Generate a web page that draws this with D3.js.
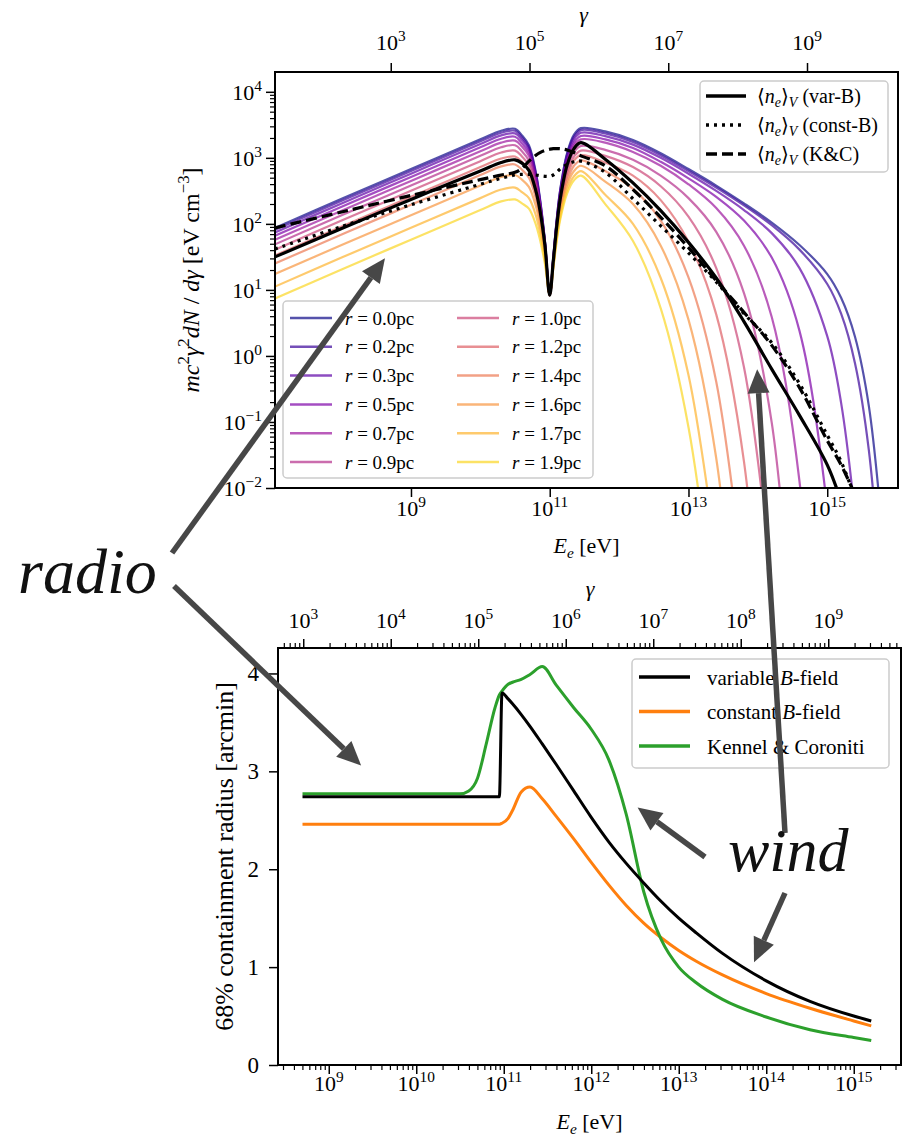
<!DOCTYPE html>
<html><head><meta charset="utf-8">
<script src="https://cdn.jsdelivr.net/npm/d3@7/dist/d3.min.js"></script>
<style>html,body{margin:0;padding:0;background:#fff}svg{display:block}</style>
</head><body>
<svg id="chart" width="904" height="1136" xmlns="http://www.w3.org/2000/svg"></svg>
<script>
// ================= DATA =================
const ME_EV = 5.11e5; // electron rest energy [eV], gamma = E / ME_EV

// ---- top panel: log10(E_e / eV) sample grid
const topLogE = [7.04, 8.0, 9.0, 10.0, 10.3, 10.5, 10.6, 10.7, 10.8, 10.86, 10.93, 11.0, 11.05, 11.1, 11.15, 11.25, 11.35, 11.45,
                 11.8, 12.2, 12.6, 13.0, 13.4, 13.8, 14.2, 14.6, 15.0, 15.2, 15.4, 15.6, 15.8];
// log10 of mc^2 gamma^2 dN/dgamma [eV cm^-3] for each radius (null = not plotted)
const spec_r00 = [1.94,2.38,2.83,3.28,3.41,3.44,3.34,3.19,2.78,2.38,1.75,0.92,1.48,2.06,2.51,3.07,3.35,3.45, 3.40,3.27,3.07,2.83,2.58,2.31,2.02,1.68,1.24,0.88,0.29,-0.76,-2.75];
const spec_r02 = [1.91,2.35,2.80,3.25,3.38,3.41,3.31,3.16,2.76,2.36,1.74,0.92,1.47,2.05,2.50,3.05,3.32,3.42, 3.37,3.24,3.04,2.80,2.55,2.28,1.98,1.61,1.09,0.64,-0.11,-1.43,-3.9];
const spec_r03 = [1.87,2.31,2.76,3.21,3.34,3.37,3.27,3.13,2.73,2.34,1.73,0.92,1.46,2.03,2.47,3.01,3.28,3.38, 3.33,3.20,3.00,2.76,2.50,2.21,1.86,1.33,0.30,-0.71,-2.42,-5,null];
const spec_r05 = [1.82,2.26,2.71,3.16,3.29,3.32,3.22,3.08,2.70,2.31,1.71,0.92,1.45,2.00,2.44,2.97,3.23,3.33, 3.28,3.15,2.94,2.69,2.41,2.05,1.49,0.38,-2.30,-5,null,null,null];
const spec_r07 = [1.76,2.20,2.65,3.10,3.23,3.26,3.17,3.03,2.65,2.28,1.69,0.92,1.44,1.98,2.41,2.93,3.19,3.28, 3.23,3.09,2.88,2.60,2.24,1.67,0.59,-1.90,-8,null,null,null,null];
const spec_r09 = [1.69,2.13,2.58,3.03,3.16,3.19,3.10,2.96,2.60,2.24,1.67,0.92,1.42,1.94,2.34,2.84,3.09,3.18, 3.12,2.97,2.73,2.39,1.88,0.95,-1.01,-5.6,null,null,null,null,null];
const spec_r10 = [1.61,2.05,2.50,2.95,3.08,3.11,3.02,2.89,2.54,2.19,1.64,0.92,1.40,1.91,2.30,2.78,3.02,3.11, 3.03,2.86,2.57,2.11,1.33,-0.17,-3.45,null,null,null,null,null,null];
const spec_r12 = [1.52,1.96,2.41,2.86,2.99,3.02,2.94,2.81,2.47,2.14,1.61,0.92,1.39,1.87,2.26,2.72,2.96,3.04, 2.93,2.73,2.36,1.73,0.63,-1.60,-6.3,null,null,null,null,null,null];
const spec_r14 = [1.40,1.84,2.29,2.74,2.87,2.90,2.82,2.70,2.39,2.07,1.57,0.92,1.37,1.84,2.21,2.65,2.88,2.96, 2.80,2.53,2.05,1.19,-0.39,-3.5,null,null,null,null,null,null,null];
const spec_r16 = [1.24,1.68,2.13,2.58,2.71,2.74,2.67,2.56,2.27,1.98,1.52,0.92,1.35,1.80,2.15,2.59,2.80,2.88, 2.64,2.30,1.67,0.55,-1.55,-5.6,null,null,null,null,null,null,null];
const spec_r17 = [1.05,1.49,1.94,2.39,2.52,2.55,2.48,2.39,2.13,1.87,1.46,0.92,1.33,1.77,2.10,2.52,2.72,2.80, 2.44,2.00,1.18,-0.29,-3.0,null,null,null,null,null,null,null,null];
const spec_r19 = [0.87,1.31,1.76,2.21,2.34,2.37,2.31,2.23,1.99,1.76,1.40,0.92,1.32,1.73,2.06,2.46,2.66,2.73, 2.30,1.74,0.72,-1.08,-4.2,null,null,null,null,null,null,null,null];
const radiusLabels = ["0.0","0.2","0.3","0.5","0.7","0.9","1.0","1.2","1.4","1.6","1.7","1.9"];
// volume averaged spectra
const spec_varB   = [1.50,1.93,2.37,2.80,2.93,2.97,2.92,2.81,2.50,2.20,1.68,0.92,1.42,1.95,2.37,2.89,3.14,3.23, 2.98,2.62,2.20,1.72,1.18,0.52,-0.20,-0.90,-1.65,-2.20,null,null,null];
const spec_constB = [1.62,1.96,2.29,2.60,2.69,2.74,2.75,2.75,2.74,2.73,2.72,2.72,2.74,2.78,2.83,2.90,2.94,2.95, 2.78,2.38,1.97,1.56,1.12,0.64,0.20,-0.42,-1.20,-1.60,-2.15,null,null];
const spec_KC     = [1.94,2.18,2.43,2.67,2.74,2.78,2.84,2.95,3.04,3.08,3.11,3.13,3.14,3.14,3.14,3.12,3.08,3.03, 2.88,2.52,2.10,1.64,1.14,0.66,0.16,-0.48,-1.28,-1.65,-2.10,null,null];
const avgLegendLabels = ["(var-B)", "(const-B)", "(K&C)"];
const topXTickExp = [9, 11, 13, 15];
const topGammaTickExp = [3, 5, 7, 9];
const topYTickExp = [-2, -1, 0, 1, 2, 3, 4];

// ---- bottom panel
const botLogE = [8.7, 9.5, 10.0, 10.4, 10.5, 10.6, 10.7, 10.8, 10.9, 10.95, 10.98, 11.05, 11.1, 11.2, 11.3, 11.44, 11.6, 11.8,
                 12.0, 12.2, 12.4, 12.6, 12.8, 13.0, 13.2, 13.5, 14.0, 14.5, 15.0, 15.2];
const rad_varB   = [2.74,2.74,2.74,2.74,2.74,2.74,2.74,2.74,2.74,2.74,3.80,3.74,3.69,3.58,3.46,3.28,3.07,2.80,2.53,2.28,2.06,1.86,1.67,1.50,1.35,1.14,0.86,0.65,0.50,0.45];
const rad_constB = [2.46,2.46,2.46,2.46,2.46,2.46,2.46,2.46,2.46,2.46,2.47,2.52,2.60,2.79,2.84,2.72,2.54,2.31,2.07,1.84,1.63,1.45,1.30,1.17,1.06,0.92,0.73,0.58,0.45,0.40];
const rad_KC     = [2.77,2.77,2.77,2.77,2.77,2.80,2.93,3.28,3.65,3.78,3.82,3.89,3.91,3.94,3.99,4.07,3.88,3.65,3.43,3.12,2.56,1.77,1.28,1.00,0.84,0.67,0.49,0.36,0.28,0.25];
const botXTickExp = [9, 10, 11, 12, 13, 14, 15];
const botGammaTickExp = [3, 4, 5, 6, 7, 8, 9];
const botYTicks = [0, 1, 2, 3, 4];

// ================= RENDER =================
const FF = '"Liberation Serif","Times New Roman","DejaVu Serif",serif';
const svg = d3.select("#chart").attr("font-family", FF);
svg.append("rect").attr("width", 904).attr("height", 1136).attr("fill", "#fff");
const defs = svg.append("defs");

function rich(sel, parts, fs) {
  let off = 0;
  parts.forEach(p => {
    let target = 0, size = fs;
    if (p.sup) { target = -0.40 * fs; size = 0.7 * fs; }
    if (p.sub) { target = 0.22 * fs; size = 0.7 * fs; }
    const ts = sel.append("tspan").text(p.t).attr("font-size", size).attr("dy", target - off);
    if (p.i) ts.attr("font-style", "italic");
    off = target;
  });
  return sel;
}
const expStr = e => (e < 0 ? "\u2212" + (-e) : String(e));
const pow10Parts = e => [{t: "10"}, {t: expStr(e), sup: true}];

function minorTicks(dom) {
  const lo = Math.log10(dom[0]), hi = Math.log10(dom[1]), out = [];
  for (let n = Math.floor(lo); n <= Math.ceil(hi); n++)
    for (let k = 2; k <= 9; k++) { const v = k * 10 ** n; if (v >= dom[0] && v <= dom[1]) out.push(v); }
  return out;
}
function styleAxis(g, w) {
  g.select(".domain").remove();
  g.selectAll(".tick line").attr("stroke", "#000").attr("stroke-width", w || 1.5);
  g.selectAll(".tick text").remove();
}

// ---------- TOP PANEL ----------
const T = {l: 275, r: 898, t: 72, b: 488};
const xT = d3.scaleLog().domain([10 ** 7.04, 10 ** 16.02]).range([T.l, T.r]);
const yT = d3.scaleLog().domain([1e-2, 10 ** 4.3]).range([T.b, T.t]);
const gT = d3.scaleLog().domain(xT.domain().map(e => e / ME_EV)).range([T.l, T.r]);

defs.append("clipPath").attr("id", "clipT").append("rect")
  .attr("x", T.l).attr("y", T.t).attr("width", T.r - T.l).attr("height", T.b - T.t);

const lineT = d3.line().defined(d => d[1] !== null)
  .x(d => xT(10 ** d[0])).y(d => yT(10 ** d[1])).curve(d3.curveCatmullRom.alpha(0.5));
const ptsT = arr => topLogE.map((e, i) => [e, arr[i]]);

const spectra = [spec_r00, spec_r02, spec_r03, spec_r05, spec_r07, spec_r09, spec_r10, spec_r12, spec_r14, spec_r16, spec_r17, spec_r19];
const rColor = i => d3.interpolatePlasma(i / 12);
const RC_OP = 0.7;

const gLT = svg.append("g").attr("clip-path", "url(#clipT)");
spectra.forEach((s, i) => {
  gLT.append("path").attr("d", lineT(ptsT(s))).attr("fill", "none")
    .attr("stroke", rColor(i)).attr("stroke-opacity", RC_OP).attr("stroke-width", 2.2);
});
const avgStyles = [
  {data: spec_varB, dash: null},
  {data: spec_constB, dash: "3,5"},
  {data: spec_KC, dash: "11,5"}
];
avgStyles.forEach(s => {
  gLT.append("path").attr("d", lineT(ptsT(s.data))).attr("fill", "none")
    .attr("stroke", "#000").attr("stroke-width", 3.2).attr("stroke-dasharray", s.dash);
});

// axes top panel
const axYT = svg.append("g").attr("transform", `translate(${T.l},0)`)
  .call(d3.axisLeft(yT).tickValues(topYTickExp.map(e => 10 ** e)).tickSize(9).tickFormat(""));
styleAxis(axYT);
const axYTm = svg.append("g").attr("transform", `translate(${T.l},0)`)
  .call(d3.axisLeft(yT).tickValues(minorTicks(yT.domain())).tickSize(5).tickFormat(""));
styleAxis(axYTm, 1.2);
topYTickExp.forEach(e => {
  rich(svg.append("text").attr("x", T.l - 13).attr("y", yT(10 ** e) + 8).attr("text-anchor", "end"), pow10Parts(e), 22);
});
const axXT = svg.append("g").attr("transform", `translate(0,${T.b})`)
  .call(d3.axisBottom(xT).tickValues(topXTickExp.map(e => 10 ** e)).tickSize(9).tickFormat(""));
styleAxis(axXT);
topXTickExp.forEach(e => {
  rich(svg.append("text").attr("x", xT(10 ** e)).attr("y", 516).attr("text-anchor", "middle"), pow10Parts(e), 22);
});
const axGT = svg.append("g").attr("transform", `translate(0,${T.t})`)
  .call(d3.axisTop(gT).tickValues(topGammaTickExp.map(e => 10 ** e)).tickSize(9).tickFormat(""));
styleAxis(axGT);
topGammaTickExp.forEach(e => {
  rich(svg.append("text").attr("x", gT(10 ** e)).attr("y", 50).attr("text-anchor", "middle"), pow10Parts(e), 22);
});
svg.append("rect").attr("x", T.l).attr("y", T.t).attr("width", T.r - T.l).attr("height", T.b - T.t)
  .attr("fill", "none").attr("stroke", "#000").attr("stroke-width", 2);

// axis labels top
svg.append("text").attr("x", (T.l + T.r) / 2 - 3).attr("y", 22).attr("text-anchor", "middle")
  .attr("font-style", "italic").attr("font-size", 22).text("\u03b3");
rich(svg.append("text").attr("x", (T.l + T.r) / 2).attr("y", 553).attr("text-anchor", "middle"),
  [{t: "E", i: true}, {t: "e", i: true, sub: true}, {t: " [eV]"}], 22);
rich(svg.append("text").attr("transform", `translate(199,${(T.t + T.b) / 2}) rotate(-90)`).attr("text-anchor", "middle"),
  [{t: "mc", i: true}, {t: "2", sup: true}, {t: "\u03b3", i: true}, {t: "2", sup: true}, {t: "dN", i: true},
   {t: " / "}, {t: "d\u03b3", i: true}, {t: " [eV cm"}, {t: "\u22123", sup: true}, {t: "]"}], 24);

// legend 1 (averages)
const L1 = svg.append("g");
L1.append("rect").attr("x", 700).attr("y", 81).attr("width", 188).attr("height", 91).attr("rx", 4)
  .attr("fill", "#fff").attr("fill-opacity", 0.8).attr("stroke", "#cccccc").attr("stroke-width", 1.5);
avgStyles.forEach((s, i) => {
  const y = 96 + i * 29;
  L1.append("line").attr("x1", 706).attr("x2", 746).attr("y1", y).attr("y2", y)
    .attr("stroke", "#000").attr("stroke-width", 3.5).attr("stroke-dasharray", s.dash);
  rich(L1.append("text").attr("x", 757).attr("y", y + 6.5),
    [{t: "\u27e8"}, {t: "n", i: true}, {t: "e", i: true, sub: true}, {t: "\u27e9"}, {t: "V", i: true, sub: true}, {t: " " + avgLegendLabels[i]}], 20);
});

// legend 2 (radii)
const L2 = svg.append("g");
L2.append("rect").attr("x", 283).attr("y", 301).attr("width", 310).attr("height", 177).attr("rx", 4)
  .attr("fill", "#fff").attr("fill-opacity", 0.8).attr("stroke", "#cccccc").attr("stroke-width", 1.5);
radiusLabels.forEach((lab, i) => {
  const col = Math.floor(i / 6), row = i % 6;
  const y = 318 + row * 28.8;
  const hx = col ? 457 : 290, tx = col ? 512 : 345;
  L2.append("line").attr("x1", hx).attr("x2", hx + 42).attr("y1", y).attr("y2", y)
    .attr("stroke", rColor(i)).attr("stroke-opacity", RC_OP).attr("stroke-width", 2.5);
  rich(L2.append("text").attr("x", tx).attr("y", y + 6.5), [{t: "r", i: true}, {t: " = " + lab + "pc"}], 19);
});

// ---------- BOTTOM PANEL ----------
const B = {l: 278, r: 901, t: 648, b: 1065};
const xB = d3.scaleLog().domain([10 ** 8.42, 10 ** 15.54]).range([B.l, B.r]);
const yB = d3.scaleLinear().domain([0, 4.26]).range([B.b, B.t]);
const gB = d3.scaleLog().domain(xB.domain().map(e => e / ME_EV)).range([B.l, B.r]);

defs.append("clipPath").attr("id", "clipB").append("rect")
  .attr("x", B.l).attr("y", B.t).attr("width", B.r - B.l).attr("height", B.b - B.t);
const lineB = d3.line().x(d => xB(10 ** d[0])).y(d => yB(d[1])).curve(d3.curveMonotoneX);
const ptsB = arr => botLogE.map((e, i) => [e, arr[i]]);
const botSeries = [
  {data: rad_varB, color: "#000000", label: [{t: "variable "}, {t: "B", i: true}, {t: "-field"}]},
  {data: rad_constB, color: "#ff7f0e", label: [{t: "constant "}, {t: "B", i: true}, {t: "-field"}]},
  {data: rad_KC, color: "#2ca02c", label: [{t: "Kennel & Coroniti"}]}
];
const gLB = svg.append("g").attr("clip-path", "url(#clipB)");
[1, 2, 0].forEach(k => {
  gLB.append("path").attr("d", lineB(ptsB(botSeries[k].data))).attr("fill", "none")
    .attr("stroke", botSeries[k].color).attr("stroke-width", 3);
});

const axYB = svg.append("g").attr("transform", `translate(${B.l},0)`)
  .call(d3.axisLeft(yB).tickValues(botYTicks).tickSize(9).tickFormat(""));
styleAxis(axYB);
botYTicks.forEach(v => {
  svg.append("text").attr("x", B.l - 19).attr("y", yB(v) + 8).attr("text-anchor", "end")
    .attr("font-size", 23).text(v);
});
const axXB = svg.append("g").attr("transform", `translate(0,${B.b})`)
  .call(d3.axisBottom(xB).tickValues(botXTickExp.map(e => 10 ** e)).tickSize(9).tickFormat(""));
styleAxis(axXB);
const axXBm = svg.append("g").attr("transform", `translate(0,${B.b})`)
  .call(d3.axisBottom(xB).tickValues(minorTicks(xB.domain())).tickSize(5).tickFormat(""));
styleAxis(axXBm, 1.2);
botXTickExp.forEach(e => {
  rich(svg.append("text").attr("x", xB(10 ** e)).attr("y", 1091).attr("text-anchor", "middle"), pow10Parts(e), 22);
});
const axGB = svg.append("g").attr("transform", `translate(0,${B.t})`)
  .call(d3.axisTop(gB).tickValues(botGammaTickExp.map(e => 10 ** e)).tickSize(9).tickFormat(""));
styleAxis(axGB);
const axGBm = svg.append("g").attr("transform", `translate(0,${B.t})`)
  .call(d3.axisTop(gB).tickValues(minorTicks(gB.domain())).tickSize(5).tickFormat(""));
styleAxis(axGBm, 1.2);
botGammaTickExp.forEach(e => {
  rich(svg.append("text").attr("x", gB(10 ** e)).attr("y", 628).attr("text-anchor", "middle"), pow10Parts(e), 22);
});
svg.append("rect").attr("x", B.l).attr("y", B.t).attr("width", B.r - B.l).attr("height", B.b - B.t)
  .attr("fill", "none").attr("stroke", "#000").attr("stroke-width", 2);

svg.append("text").attr("x", 590).attr("y", 596).attr("text-anchor", "middle")
  .attr("font-style", "italic").attr("font-size", 22).text("\u03b3");
rich(svg.append("text").attr("x", (B.l + B.r) / 2).attr("y", 1129).attr("text-anchor", "middle"),
  [{t: "E", i: true}, {t: "e", i: true, sub: true}, {t: " [eV]"}], 22);
svg.append("text").attr("transform", `translate(233,${(B.t + B.b) / 2}) rotate(-90)`).attr("text-anchor", "middle")
  .attr("font-size", 26).text("68% containment radius [arcmin]");

// legend bottom
const L3 = svg.append("g");
L3.append("rect").attr("x", 632).attr("y", 659).attr("width", 257).attr("height", 109).attr("rx", 4)
  .attr("fill", "#fff").attr("fill-opacity", 0.8).attr("stroke", "#cccccc").attr("stroke-width", 1.5);
botSeries.forEach((s, i) => {
  const y = 677 + i * 34.5;
  L3.append("line").attr("x1", 639).attr("x2", 690).attr("y1", y).attr("y2", y)
    .attr("stroke", s.color).attr("stroke-width", 3.5);
  rich(L3.append("text").attr("x", 707).attr("y", y + 7.5), s.label, 21);
});

// ---------- ANNOTATIONS ----------
const ANN = "#474747";
function arrow(x1, y1, x2, y2) {
  const a = Math.atan2(y2 - y1, x2 - x1), hl = 24, hw = 11;
  const bx = x2 - hl * Math.cos(a), by = y2 - hl * Math.sin(a);
  svg.append("line").attr("x1", x1).attr("y1", y1).attr("x2", bx).attr("y2", by)
    .attr("stroke", ANN).attr("stroke-width", 5.5);
  const px = -Math.sin(a) * hw, py = Math.cos(a) * hw;
  svg.append("polygon").attr("points", `${x2},${y2} ${bx + px},${by + py} ${bx - px},${by - py}`).attr("fill", ANN);
}
// arrow tips given in data coordinates of the panels they point at
arrow(172, 553, xT(10 ** 8.625), yT(10 ** 1.48));
arrow(174, 586, xB(10 ** 9.37), yB(3.06));
arrow(785, 833, xT(10 ** 13.99), yT(10 ** -0.2));
arrow(705, 857, xB(10 ** 12.53), yB(2.63));
arrow(785, 893, xB(10 ** 13.86), yB(1.05));
svg.append("text").attr("x", 18).attr("y", 593).attr("font-size", 64).attr("font-style", "italic")
  .attr("fill", "#111").text("radio");
svg.append("text").attr("x", 728).attr("y", 871).attr("font-size", 62).attr("font-style", "italic")
  .attr("fill", "#111").text("wind");
</script>
</body></html>
